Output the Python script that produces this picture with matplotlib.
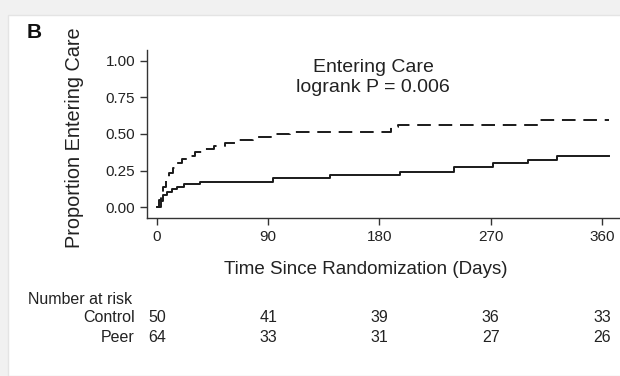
import matplotlib
matplotlib.use("Agg")
import matplotlib.pyplot as plt
import matplotlib.transforms as mtransforms
from matplotlib.patches import Rectangle

plt.rcParams['font.family'] = ['Liberation Sans', 'DejaVu Sans']

# Kaplan-Meier style cumulative curves (days, proportion entering care)
peer_days = [0, 2, 3, 5, 7, 10, 13, 16, 20, 25, 31, 38, 46, 55, 64, 78, 92, 108, 189, 195, 308, 366]
peer_prop = [0, 0.05, 0.09, 0.14, 0.18, 0.23, 0.27, 0.30, 0.33, 0.35, 0.38, 0.40, 0.42, 0.44, 0.46, 0.48, 0.50, 0.515, 0.55, 0.56, 0.595, 0.595]

control_days = [0, 3, 5, 8, 12, 16, 22, 35, 94, 140, 197, 240, 272, 300, 324, 366]
control_prop = [0, 0.04, 0.08, 0.10, 0.12, 0.14, 0.16, 0.173, 0.196, 0.219, 0.242, 0.276, 0.299, 0.322, 0.349, 0.349]

x_ticks = [0, 90, 180, 270, 360]
y_ticks = [0.00, 0.25, 0.50, 0.75, 1.00]
risk_groups = ['Control', 'Peer']
risk_control = [50, 41, 39, 36, 33]
risk_peer = [64, 33, 31, 27, 26]

txt = '#222222'

fig = plt.figure(figsize=(6.2, 3.76), dpi=100)
fig.patch.set_facecolor('#f1f1f1')
# white card
card = Rectangle((8 / 620, 0), 1, (376 - 15) / 376, transform=fig.transFigure,
                 facecolor='white', edgecolor='#e4e4e4', linewidth=1, zorder=-5)
fig.patches.append(card)

ax = fig.add_axes([147 / 620, (376 - 218) / 376, (620 - 147) / 620, (218 - 50) / 376])
ax.patch.set_alpha(0)

ax.step(control_days, control_prop, where='post', color='#1a1a1a', linewidth=1.4)
ax.step(peer_days, peer_prop, where='post', color='#1a1a1a', linewidth=1.4,
        linestyle=(0, (7, 4)))

ax.set_xlim(-8.1, 374.6)
ax.set_ylim(-0.0753, 1.0753)
ax.set_xticks(x_ticks)
ax.set_yticks(y_ticks)
ax.set_yticklabels(['%.2f' % v for v in y_ticks])
for s in ['top', 'right']:
    ax.spines[s].set_visible(False)
for s in ['left', 'bottom']:
    ax.spines[s].set_color('#333333')
    ax.spines[s].set_linewidth(1.0)
ax.tick_params(axis='both', length=5, width=1, color='#333333', labelsize=11,
               labelcolor=txt, pad=3.5)

fig.text(373 / 620, 1 - 67 / 376, 'Entering Care', ha='center', va='center',
         fontsize=14, color=txt)
fig.text(373 / 620, 1 - 88 / 376, 'logrank P = 0.006', ha='center', va='center',
         fontsize=14, color=txt)

fig.text(75 / 620, 1 - 138 / 376, 'Proportion Entering Care', rotation=90,
         ha='center', va='center', fontsize=14.3, color=txt)
fig.text(366 / 620, 1 - 269 / 376, 'Time Since Randomization (Days)', ha='center',
         va='center', fontsize=13.5, color=txt)
fig.text(27 / 620, 1 - 38 / 376, 'B', ha='left', va='baseline', fontsize=15,
         fontweight='bold', color='#111111')

# number at risk table
fig.text(28 / 620, 1 - 299 / 376, 'Number at risk', ha='left', va='center',
         fontsize=11.5, color=txt)
blend = mtransforms.blended_transform_factory(ax.transData, fig.transFigure)
rows = [(risk_groups[0], risk_control, 318), (risk_groups[1], risk_peer, 337)]
for name, vals, ypx in rows:
    fig.text(135 / 620, 1 - ypx / 376, name, ha='right', va='center', fontsize=11.5, color=txt)
    for xv, n in zip(x_ticks, vals):
        ax.text(xv, 1 - ypx / 376, str(n), transform=blend, ha='center', va='center',
                fontsize=11.5, color=txt, clip_on=False)

fig.savefig('out.png', dpi=100, facecolor=fig.get_facecolor())
